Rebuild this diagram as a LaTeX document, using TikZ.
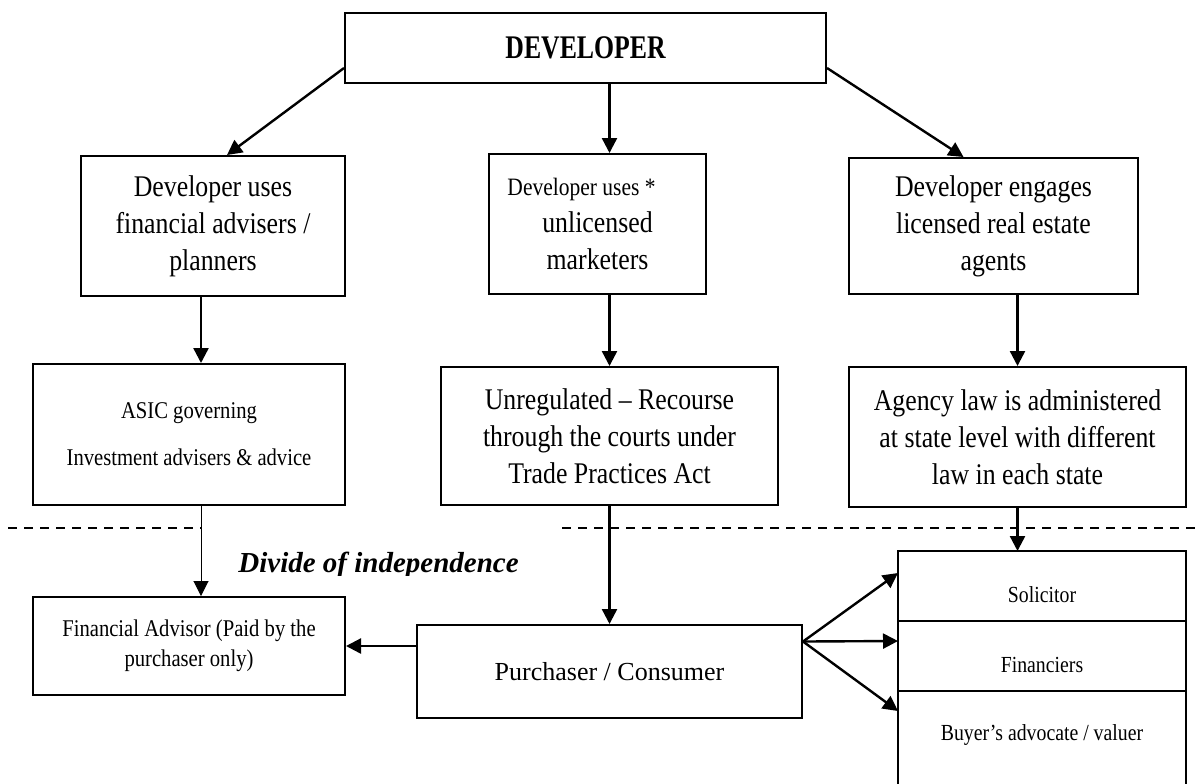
\documentclass[tikz,border=0pt]{standalone}
\usepackage{fontspec}
\setmainfont{Liberation Serif}
\newfontfamily\narrowfont{Liberation Serif}[FakeStretch=0.86]
\newfontfamily\devfont{Liberation Serif}[FakeStretch=0.78]
\usetikzlibrary{arrows.meta,positioning}

\begin{document}
\begin{tikzpicture}[x=0.5pt,y=-0.5pt]
\tikzstyle{box}=[rectangle, draw=black, line width=1pt, inner sep=0pt, align=center, font=\narrowfont\fontsize{15}{18.5}\selectfont]
\tikzstyle{small}=[box, font=\narrowfont\fontsize{12}{15}\selectfont]
\tikzstyle{cell}=[box, outer sep=0pt, minimum width=144pt, minimum height=35pt, text height=16.5pt, text depth=0pt, font=\narrowfont\fontsize{11.5}{14}\selectfont]
\tikzstyle{connect}=[-{Triangle[length=7.5pt,width=7.5pt]}, line width=1.2pt]
\tikzstyle{divide}=[dash pattern=on 4.5pt off 3.5pt, line width=1pt]
\useasboundingbox (0,0) rectangle (1197,783);
  \node[box, font=\devfont\bfseries\fontsize{16.5}{20}\selectfont, minimum width=240.5pt, minimum height=35pt] (dev) at (585.5,48) {DEVELOPER};
  \node[box, minimum width=132pt, minimum height=70pt] (fa) at (213,226) {Developer uses\\financial advisers /\\planners};
  \node[box, minimum width=108.5pt, minimum height=70pt] (um) at (597.5,224) {{\fontsize{12.5}{15}\selectfont Developer uses *\hspace*{16pt}}\\unlicensed\\marketers};
  \node[box, minimum width=144.5pt, minimum height=68pt] (re) at (993.5,226) {Developer engages\\licensed real estate\\agents};
  \node[small, minimum width=156pt, minimum height=70.5pt, font=\narrowfont\fontsize{12}{23.5}\selectfont] (asic) at (189,434.5) {ASIC governing\\Investment advisers \& advice};
  \node[box, minimum width=168.5pt, minimum height=69pt] (tpa) at (609.5,436) {Unregulated – Recourse\\through the courts under\\Trade Practices Act};
  \node[box, minimum width=168.5pt, minimum height=70pt] (agl) at (1017.5,437) {Agency law is administered\\at state level with different\\law in each state};
  \node[small, minimum width=156pt, minimum height=49pt] (fadv) at (189,646) {Financial Advisor (Paid by the\\purchaser only)};
  \node[box, minimum width=192.5pt, minimum height=46.5pt, font=\fontsize{13}{16}\selectfont] (pc) at (609.5,671.5) {Purchaser / Consumer};
  \node[cell, anchor=north] (sol) at (1042,551) {Solicitor};
  \node[cell, below=0pt of sol] (fin) {Financiers};
  \node[cell, below=0pt of fin, minimum height=55pt] (bav) {};
  \node[font=\narrowfont\fontsize{11.5}{14}\selectfont, inner sep=0pt] (bavtext) at ([yshift=-22pt]bav.north) {Buyer’s advocate / valuer};
  \begin{scope}
  \clip (0,0) rectangle (1197,575);
  \node[anchor=base west, inner sep=0pt, font=\bfseries\itshape\fontsize{14.5}{17}\selectfont] (divtext) at (238,572) {Divide of independence};
  \end{scope}
  \draw[divide] (8,528) -- (201,528);
  \draw[divide] (562,528) -- (1197,528);
  \draw[connect] ([yshift=-10pt]dev.west) -- ([xshift=7pt]fa.north);
  \draw[connect] (dev.south -| tpa) -- (um.north -| tpa);
  \draw[connect] ([yshift=-10pt]dev.east) -- ([xshift=-15pt]re.north);
  \draw[connect] ([xshift=-6pt]fa.south) -- ([xshift=-6pt]fa.south |- asic.north);
  \draw[connect] (um.south -| tpa) -- (tpa.north);
  \draw[connect] (re.south -| agl) -- (agl.north);
  \draw[connect, line width=0.5pt] ([xshift=6pt]asic.south) -- ([xshift=6pt]asic.south |- fadv.north);
  \draw[connect] (tpa.south) -- (pc.north);
  \draw[connect] (agl.south) -- (agl.south |- sol.north);
  \draw[connect] (pc.west |- fadv.east) -- (fadv.east);
  \coordinate (fork) at ([yshift=15pt]pc.east);
  \draw[connect] (fork) -- ([yshift=-11pt]sol.north west);
  \draw[connect] (fork) -- ([yshift=-10pt]fin.north west);
  \draw[connect] (fork) -- ([yshift=-10pt]bav.north west);
\end{tikzpicture}
\end{document}
